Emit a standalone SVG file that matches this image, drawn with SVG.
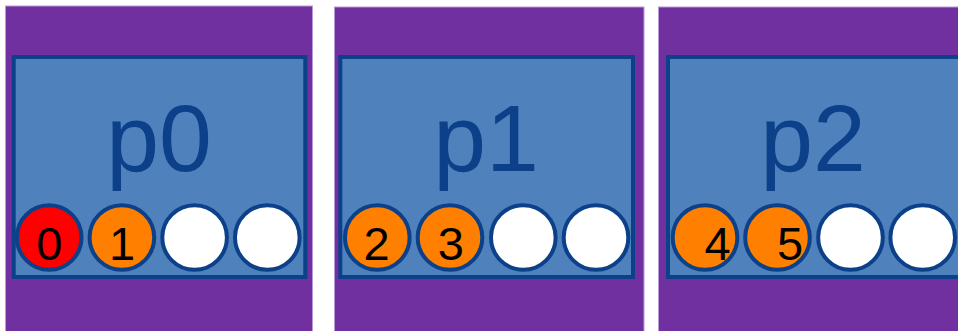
<svg xmlns="http://www.w3.org/2000/svg" width="958" height="331" viewBox="0 0 958 331">
  <style>
    .bg { fill: #7030a0; stroke: #b99ad8; stroke-width: 1; }
    .box { fill: #4f81bd; stroke: #0c418a; stroke-width: 4; }
    .title { font-family: "Liberation Sans", Arial, sans-serif; font-size: 95px; fill: #0c418a; text-anchor: middle; }
    .slot { stroke: #0c418a; stroke-width: 4; }
    .red { fill: #ff0000; }
    .orange { fill: #ff8000; }
    .empty { fill: #ffffff; }
    .num { font-family: "Liberation Sans", Arial, sans-serif; font-size: 47px; fill: #000000; text-anchor: middle; }
  </style>
  <rect width="958" height="331" fill="#ffffff"/>

  <g id="p0">
    <rect class="bg" x="5.5" y="6" width="307" height="330"/>
    <rect class="box" x="13.7" y="57" width="291.6" height="220"/>
    <text class="title" x="159" y="171">p0</text>
    <circle class="slot red" cx="49.2" cy="237.5" r="32.3"/>
    <circle class="slot orange" cx="121.9" cy="237.5" r="32.3"/>
    <circle class="slot empty" cx="194.6" cy="237.5" r="32.3"/>
    <circle class="slot empty" cx="267.3" cy="237.5" r="32.3"/>
    <text class="num" x="49.2" y="260">0</text>
    <text class="num" x="122" y="260">1</text>
  </g>

  <g id="p1">
    <rect class="bg" x="334.5" y="7" width="309.5" height="330"/>
    <rect class="box" x="340.3" y="57" width="292.7" height="220"/>
    <text class="title" x="486" y="171">p1</text>
    <circle class="slot orange" cx="377.3" cy="237.5" r="32.3"/>
    <circle class="slot orange" cx="450" cy="237.5" r="32.3"/>
    <circle class="slot empty" cx="523.3" cy="237.5" r="32.3"/>
    <circle class="slot empty" cx="596" cy="237.5" r="32.3"/>
    <text class="num" x="376.5" y="260">2</text>
    <text class="num" x="450.8" y="260">3</text>
  </g>

  <g id="p2">
    <rect class="bg" x="658.5" y="7" width="310" height="330"/>
    <rect class="box" x="668" y="57" width="300" height="220"/>
    <text class="title" x="813" y="171">p2</text>
    <circle class="slot orange" cx="705" cy="237.5" r="32.3"/>
    <circle class="slot orange" cx="777.5" cy="237.5" r="32.3"/>
    <circle class="slot empty" cx="850.5" cy="237.5" r="32.3"/>
    <circle class="slot empty" cx="922.7" cy="237.5" r="32.3"/>
    <text class="num" x="717.5" y="260">4</text>
    <text class="num" x="790" y="260">5</text>
  </g>
</svg>
